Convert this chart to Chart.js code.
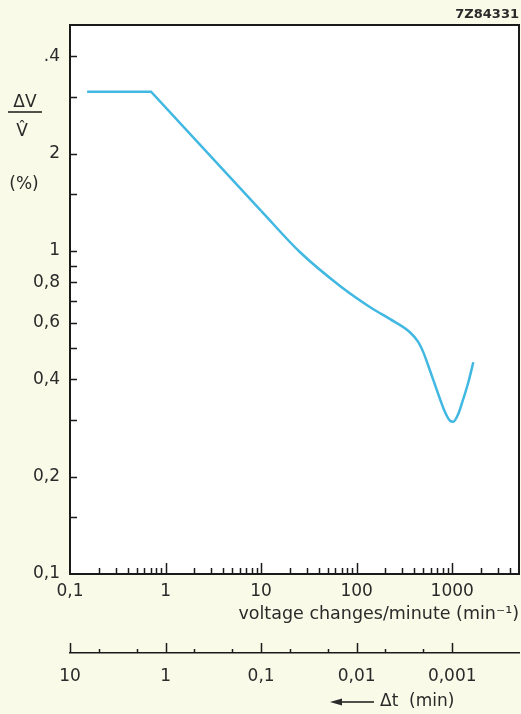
<!DOCTYPE html>
<html>
<head>
<meta charset="utf-8">
<script src="https://cdn.jsdelivr.net/npm/chart.js@4.4.1/dist/chart.umd.min.js"></script>
<style>
  html, body { margin: 0; padding: 0; background: #fafae8; }
  #wrap { width: 521px; height: 714px; }
</style>
</head>
<body>
<div id="wrap"><canvas id="grafico" width="521" height="714"></canvas></div>
<script>
/* ===================== DATOS ===================== */

const CODIGO = "7Z84331";

// tramo recto: meseta y pendiente
const rectaX = [0.151, 0.705, 10];
const rectaY = [3.11, 3.11, 1.33];

// tramo curvo hasta el final
const curvaX = [10, 25.6, 67, 148, 224, 361, 442, 498, 562, 745, 841, 948, 1026, 1158, 1306, 1475, 1663];
const curvaY = [1.33, 0.99, 0.779, 0.661, 0.615, 0.560, 0.522, 0.486, 0.441, 0.348, 0.317, 0.298, 0.296, 0.313, 0.348, 0.392, 0.452];

const yTicks = [4, 2, 1, 0.8, 0.6, 0.4, 0.2, 0.1];
const yLabels = [".4", "2", "1", "0,8", "0,6", "0,4", "0,2", "0,1"];
const yMarcas = [4, 3, 2, 1.5, 1, 0.9, 0.8, 0.7, 0.6, 0.5, 0.4, 0.3, 0.2, 0.15];

const xTicks = [0.1, 1, 10, 100, 1000];
const xLabels = ["0,1", "1", "10", "100", "1000"];
const xMarcasMayores = [1, 10, 100, 1000];
const xMarcasMenores = [
  0.2, 0.3, 0.4, 0.5, 0.6, 0.7, 0.8, 0.9,
  2, 3, 4, 5, 6, 7, 8, 9,
  20, 30, 40, 50, 60, 70, 80, 90,
  200, 300, 400, 500, 600, 700, 800, 900,
  2000, 3000, 4000
];

const tTicks = [10, 1, 0.1, 0.01, 0.001];
const tLabels = ["10", "1", "0,1", "0,01", "0,001"];
const tMarcasMenores = [5, 2, 0.5, 0.2, 0.05, 0.02, 0.005, 0.002];

/* ===================== ESTILO ===================== */

const AZUL = "#40b8e2";
const TINTA = "#2a2a2a";
const FUENTE = "'DejaVu Sans', sans-serif";
const font = { family: FUENTE, size: 17 };

/* ===================== PLUGIN: MARCO, MARCAS Y TEXTOS ===================== */

const marcasInternas = {
  id: "marcasInternas",
  beforeDraw(chart) {
    const { ctx, chartArea: a } = chart;
    ctx.save();
    ctx.fillStyle = "#ffffff";
    ctx.fillRect(a.left, a.top, a.right - a.left, a.bottom - a.top);
    ctx.restore();
  },
  afterDraw(chart) {
    const { ctx, chartArea: a, scales } = chart;
    const { x, y, t } = scales;
    ctx.save();
    ctx.strokeStyle = "#1a1a1a";
    ctx.lineWidth = 1.5;

    ctx.beginPath();
    yMarcas.forEach(v => {
      const py = Math.round(y.getPixelForValue(v)) + 0.5;
      ctx.moveTo(a.left, py);
      ctx.lineTo(a.left + 7, py);
    });
    xMarcasMenores.forEach(v => {
      const px = Math.round(x.getPixelForValue(v)) + 0.5;
      ctx.moveTo(px, a.bottom);
      ctx.lineTo(px, a.bottom - 6);
    });
    xMarcasMayores.forEach(v => {
      const px = Math.round(x.getPixelForValue(v)) + 0.5;
      ctx.moveTo(px, a.bottom);
      ctx.lineTo(px, a.bottom - 11);
    });
    tMarcasMenores.forEach(v => {
      const px = Math.round(t.getPixelForValue(v)) + 0.5;
      ctx.moveTo(px, t.top);
      ctx.lineTo(px, t.top - 4);
    });
    tTicks.forEach(v => {
      const px = Math.round(t.getPixelForValue(v)) + 0.5;
      ctx.moveTo(px, t.top);
      ctx.lineTo(px, t.top - 10);
    });
    ctx.stroke();

    ctx.lineWidth = 2;
    ctx.strokeRect(a.left, a.top, a.right - a.left, a.bottom - a.top);

    // etiqueta del eje y: fraccion ΔV / V̂ y (%)
    ctx.fillStyle = TINTA;
    ctx.font = `17px ${FUENTE}`;
    ctx.textAlign = "center";
    ctx.textBaseline = "middle";
    ctx.fillText("ΔV", 25, 103);
    ctx.beginPath();
    ctx.lineWidth = 1.5;
    ctx.moveTo(8, 112);
    ctx.lineTo(42, 112);
    ctx.stroke();
    ctx.fillText("V\u0302", 22, 132);
    ctx.fillText("(%)", 24, 185);

    // flecha Δt (min)
    const yf = t.bottom - 12;
    ctx.beginPath();
    ctx.moveTo(340, yf);
    ctx.lineTo(374, yf);
    ctx.stroke();
    ctx.beginPath();
    ctx.moveTo(330, yf);
    ctx.lineTo(342, yf - 3.5);
    ctx.lineTo(342, yf + 3.5);
    ctx.closePath();
    ctx.fill();
    ctx.textAlign = "left";
    ctx.fillText("Δt  (min)", 380, yf);

    ctx.restore();
  }
};

/* ===================== GRAFICO ===================== */

const puntos = (xs, ys) => xs.map((v, i) => ({ x: v, y: ys[i] }));

new Chart(document.getElementById("grafico"), {
  type: "line",
  data: {
    datasets: [
      {
        data: puntos(rectaX, rectaY),
        borderColor: AZUL, borderWidth: 2.5,
        pointRadius: 0, tension: 0, fill: false
      },
      {
        data: puntos(curvaX, curvaY),
        borderColor: AZUL, borderWidth: 2.5,
        pointRadius: 0, cubicInterpolationMode: "monotone", fill: false
      }
    ]
  },
  options: {
    responsive: false,
    animation: false,
    layout: { padding: { left: 0, right: 2, top: 0, bottom: 0 } },
    plugins: {
      legend: { display: false },
      tooltip: { enabled: false },
      title: {
        display: true, text: CODIGO, align: "end", color: TINTA,
        font: { family: FUENTE, size: 13, weight: "bold" },
        padding: { top: 7, bottom: 2.4 }
      }
    },
    scales: {
      x: {
        type: "logarithmic", position: "bottom", min: 0.1, max: 5000, weight: 0,
        grid: { display: false, drawTicks: false },
        border: { display: false },
        afterBuildTicks: s => { s.ticks = xTicks.map(v => ({ value: v })); },
        afterFit: s => { s.height = 79; },
        ticks: {
          autoSkip: false, maxRotation: 0, padding: 7, color: TINTA, font,
          callback: (v, i) => xLabels[i]
        },
        title: {
          display: true, text: "voltage changes/minute (min⁻¹)", align: "end",
          color: TINTA, font: { family: FUENTE, size: 17.5 }, padding: { top: 0, bottom: 28 }
        }
      },
      t: {
        type: "logarithmic", position: "bottom", reverse: true,
        min: 0.0002, max: 10, weight: 1,
        grid: { display: false, drawTicks: false },
        border: { display: true, color: "#1a1a1a", width: 1.5 },
        afterBuildTicks: s => { s.ticks = tTicks.map(v => ({ value: v })); },
        afterFit: s => { s.height = 61; },
        ticks: {
          autoSkip: false, maxRotation: 0, padding: 13, color: TINTA, font,
          callback: (v, i) => tLabels[i]
        }
      },
      y: {
        type: "logarithmic", position: "left", min: 0.1, max: 5,
        grid: { display: false, drawTicks: false },
        border: { display: false },
        afterBuildTicks: s => { s.ticks = yTicks.map(v => ({ value: v })); },
        afterFit: s => { s.width = 70; },
        ticks: {
          autoSkip: false, padding: 10, color: TINTA, font,
          callback: (v, i) => yLabels[i]
        }
      }
    }
  },
  plugins: [marcasInternas]
});
</script>
</body>
</html>
